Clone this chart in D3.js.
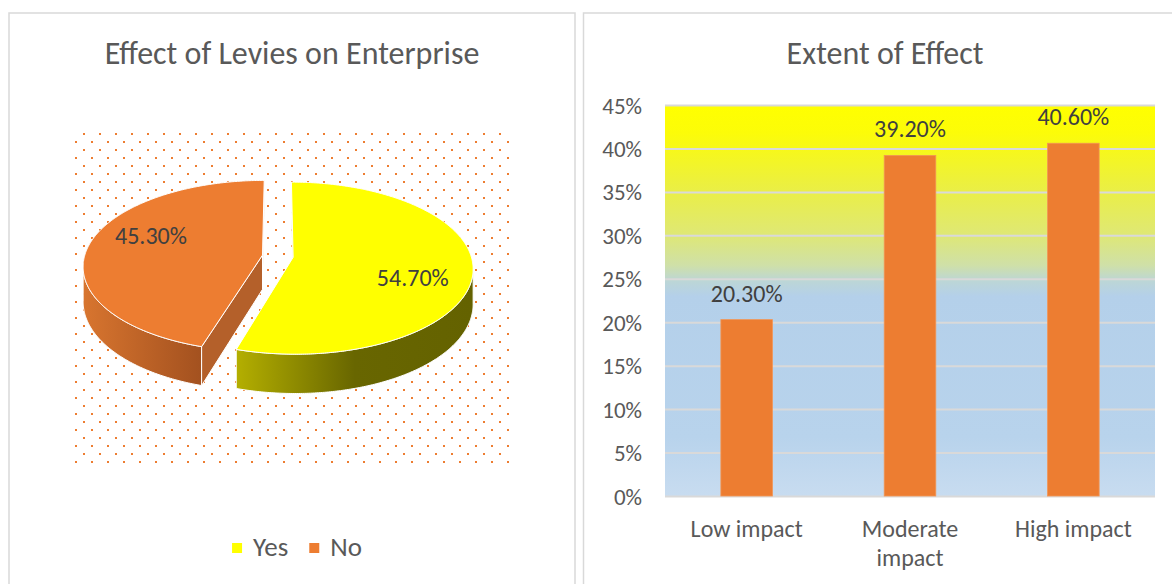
<!DOCTYPE html>
<html>
<head>
<meta charset="utf-8">
<script src="https://cdn.jsdelivr.net/npm/d3@7"></script>
<style>
  html, body { margin: 0; padding: 0; background: #fff; }
  svg { display: block; }
  text { font-family: Calibri, Carlito, Lato, "Noto Sans", sans-serif; }
</style>
</head>
<body>
<svg id="chart" width="1172" height="584"></svg>
<script>
// ---- data ----
const pieTitle = "Effect of Levies on Enterprise";
const pieCategories = ["Yes", "No"];
const pieValues = [54.7, 45.3];
const pieColors = ["#ffff00", "#ed7d31"];

const barTitle = "Extent of Effect";
const barCategories = ["Low impact", "Moderate impact", "High impact"];
const barValues = [20.3, 39.2, 40.6];
const barTicks = [0, 5, 10, 15, 20, 25, 30, 35, 40, 45];

const fmtPct = v => v.toFixed(2) + "%";

const svg = d3.select("#chart");
const defs = svg.append("defs");

// ---- panel frames ----
svg.append("rect").attr("x", 9).attr("y", 13).attr("width", 566).attr("height", 600)
  .attr("fill", "#fff").attr("stroke", "#d9d9d9").attr("stroke-width", 1.5);
svg.append("rect").attr("x", 583.5).attr("y", 13).attr("width", 620).attr("height", 600)
  .attr("fill", "#fff").attr("stroke", "#d9d9d9").attr("stroke-width", 1.5);

// ---- titles ----
svg.append("text").attr("x", 292).attr("y", 64).attr("text-anchor", "middle")
  .attr("font-size", 32).attr("fill", "#595959").text(pieTitle);
svg.append("text").attr("x", 885).attr("y", 64).attr("text-anchor", "middle")
  .attr("font-size", 32).attr("fill", "#595959").text(barTitle);

// ================= 3-D pie =================
// dotted plot-area fill
const pat = defs.append("pattern").attr("id", "dots").attr("patternUnits", "userSpaceOnUse")
  .attr("x", 75).attr("y", 133).attr("width", 16).attr("height", 16);
pat.append("rect").attr("x", 8).attr("y", 0).attr("width", 2).attr("height", 2).attr("fill", "#ed7d31");
pat.append("rect").attr("x", 0).attr("y", 8).attr("width", 2).attr("height", 2).attr("fill", "#ed7d31");
svg.append("rect").attr("x", 75).attr("y", 133).attr("width", 435).attr("height", 330).attr("fill", "url(#dots)");

// wall shading
const wallGrad = [
  { id: "wallYes", stops: [[0, "#b4af00"], [0.5, "#686600"], [1, "#646200"]] },
  { id: "wallNo", stops: [[0, "#d8752f"], [1, "#a3511f"]] }
];
wallGrad.forEach(g => {
  const lg = defs.append("linearGradient").attr("id", g.id)
    .attr("x1", 0).attr("y1", 0).attr("x2", 1).attr("y2", 0);
  g.stops.forEach(s => lg.append("stop").attr("offset", s[0]).attr("stop-color", s[1]));
});
const faceColors = ["#9a9600", "#b4602a"];

// perspective projection of the unit disk (u right, v toward the viewer)
const CX = 277.8, CY = 256.2, RX = 178, RY = 84.4, P = 0.126, DEPTH = 34.3, EXPLODE = 0.087;
function proj(u, v, h) {
  const s = 1 / (1 - P * v);
  return [CX + RX * u * s, CY + (RY * v + h) * s];
}
function area(pts) {
  let a = 0;
  for (let i = 0; i < pts.length; i++) {
    const p = pts[i], q = pts[(i + 1) % pts.length];
    a += p[0] * q[1] - q[0] * p[1];
  }
  return a / 2;
}
const line = d3.line();

const arcs = d3.pie().sort(null).value(d => d)(pieValues);
const slices = arcs.map((a, i) => {
  const mid = (a.startAngle + a.endAngle) / 2;
  const ou = EXPLODE * Math.sin(mid), ov = -EXPLODE * Math.cos(mid);
  const rim = (ang, h, r = 1) => proj(ou + r * Math.sin(ang), ov - r * Math.cos(ang), h);
  const n = Math.ceil((a.endAngle - a.startAngle) / 0.01);
  const angs = d3.range(n + 1).map(k => a.startAngle + (a.endAngle - a.startAngle) * k / n);
  return { a, i, mid, ou, ov, rim, angs, apex: h => proj(ou, ov, h) };
});

const gWalls = svg.append("g");
const gTops = svg.append("g");

slices.forEach(s => {
  // outer wall: keep the runs of segments that face the viewer
  let run = [];
  const runs = [];
  for (let k = 0; k < s.angs.length - 1; k++) {
    const t0 = s.rim(s.angs[k], 0), t1 = s.rim(s.angs[k + 1], 0);
    const b0 = s.rim(s.angs[k], DEPTH), b1 = s.rim(s.angs[k + 1], DEPTH);
    if (area([t0, t1, b1, b0]) < 0) {
      run.push(k);
    } else if (run.length) { runs.push(run); run = []; }
  }
  if (run.length) runs.push(run);
  runs.forEach(r => {
    const ks = r.concat([r[r.length - 1] + 1]);
    const top = ks.map(k => s.rim(s.angs[k], 0));
    const bot = ks.map(k => s.rim(s.angs[k], DEPTH)).reverse();
    gWalls.append("path").attr("d", line(top.concat(bot)) + "Z")
      .attr("fill", `url(#${wallGrad[s.i].id})`)
      .attr("stroke", "#fff").attr("stroke-width", 1).attr("stroke-linejoin", "round");
  });
  // cut faces
  [[s.a.startAngle, -1], [s.a.endAngle, 1]].forEach(([ang, sign]) => {
    const quad = [s.apex(0), s.rim(ang, 0), s.rim(ang, DEPTH), s.apex(DEPTH)];
    if (area(quad) * sign > 0) {
      gWalls.append("path").attr("d", line(quad) + "Z")
        .attr("fill", faceColors[s.i])
        .attr("stroke", "#fff").attr("stroke-width", 1).attr("stroke-linejoin", "round");
    }
  });
  // top face
  const topPts = [s.apex(0)].concat(s.angs.map(ang => s.rim(ang, 0)));
  gTops.append("path").attr("d", line(topPts) + "Z")
    .attr("fill", pieColors[s.i])
    .attr("stroke", "#fff").attr("stroke-width", 1).attr("stroke-linejoin", "round");
});

// data labels on the slice tops
slices.forEach(s => {
  const ang = s.mid + 0.2;
  const p = s.rim(ang, 0, 0.69);
  gTops.append("text").attr("x", p[0]).attr("y", p[1])
    .attr("text-anchor", "middle").attr("dominant-baseline", "central")
    .attr("font-size", 24).attr("fill", "#404040").text(fmtPct(pieValues[s.i]));
});

// legend
const leg = svg.append("g");
let lx = 0;
pieCategories.forEach((c, i) => {
  const it = leg.append("g").attr("transform", `translate(${lx},0)`);
  it.append("rect").attr("x", 0).attr("y", -13).attr("width", 10).attr("height", 10).attr("fill", pieColors[i]);
  const t = it.append("text").attr("x", 21).attr("y", 0).attr("font-size", 27).attr("fill", "#595959").text(c);
  lx += 21 + t.node().getComputedTextLength() + 21;
});
const legW = lx - 21;
leg.attr("transform", `translate(${297 - legW / 2},556)`);

// ================= bar chart =================
const plot = { left: 665, right: 1155, top: 105, bottom: 496 };
const x = d3.scaleBand().domain(barCategories).range([plot.left, plot.right])
  .paddingInner(0.684).paddingOuter(0.342);
const y = d3.scaleLinear().domain([0, 45]).range([plot.bottom, plot.top]);

const bg = defs.append("linearGradient").attr("id", "plotBg")
  .attr("x1", 0).attr("y1", 0).attr("x2", 0).attr("y2", 1);
[[0, "#ffff00"], [0.07, "#fcfc08"], [0.2, "#ecf03e"], [0.33, "#dfe874"], [0.41, "#cfe0a8"],
 [0.45, "#bcd6d6"], [0.49, "#b4d0ea"], [0.85, "#b8d3ec"], [1, "#c8dcf0"]]
  .forEach(s => bg.append("stop").attr("offset", s[0]).attr("stop-color", s[1]));
svg.append("rect").attr("x", plot.left).attr("y", plot.top)
  .attr("width", plot.right - plot.left).attr("height", plot.bottom - plot.top)
  .attr("fill", "url(#plotBg)");

// gridlines
const grid = svg.append("g").attr("transform", `translate(${plot.left},0)`)
  .call(d3.axisLeft(y).tickValues(barTicks).tickSize(-(plot.right - plot.left)).tickFormat(""));
grid.select(".domain").remove();
grid.selectAll(".tick line").attr("stroke", "#d9d9d9").attr("stroke-width", 2);

// y tick labels
const yAx = svg.append("g").attr("transform", `translate(${plot.left},0)`)
  .call(d3.axisLeft(y).tickValues(barTicks).tickSize(0).tickPadding(23).tickFormat(d => d + "%"));
yAx.select(".domain").remove();
yAx.attr("font-family", null).attr("font-size", null);
yAx.selectAll("text").attr("font-size", 23).attr("fill", "#595959").attr("dy", "0.35em");

// bars
svg.append("g").selectAll("rect").data(barValues).join("rect")
  .attr("x", (d, i) => x(barCategories[i]))
  .attr("width", x.bandwidth())
  .attr("y", d => y(d))
  .attr("height", d => y(0) - y(d))
  .attr("fill", "#ed7d31").attr("stroke", "#f29656").attr("stroke-width", 0.8);

// value labels
svg.append("g").selectAll("text").data(barValues).join("text")
  .attr("x", (d, i) => x(barCategories[i]) + x.bandwidth() / 2)
  .attr("y", d => y(d) - 18)
  .attr("text-anchor", "middle").attr("font-size", 24).attr("fill", "#404040")
  .text(d => fmtPct(d));

// category axis with wrapped labels
const xAx = svg.append("g").attr("transform", `translate(0,${plot.bottom})`)
  .call(d3.axisBottom(x).tickSize(0));
xAx.select(".domain").remove();
xAx.attr("font-family", null).attr("font-size", null);
xAx.selectAll("text").each(function (d) {
  const t = d3.select(this).attr("y", 41).attr("dy", null)
    .attr("font-size", 24).attr("fill", "#595959").text(null);
  const words = d.split(" ");
  const lines = [];
  let cur = [];
  words.forEach(w => {
    const test = cur.concat([w]).join(" ");
    t.text(test);
    if (this.getComputedTextLength() > 145 && cur.length) { lines.push(cur.join(" ")); cur = [w]; }
    else cur.push(w);
  });
  lines.push(cur.join(" "));
  t.text(null);
  lines.forEach((l, k) => t.append("tspan").attr("x", 0).attr("dy", k ? 29 : 0).text(l));
});
</script>
</body>
</html>
